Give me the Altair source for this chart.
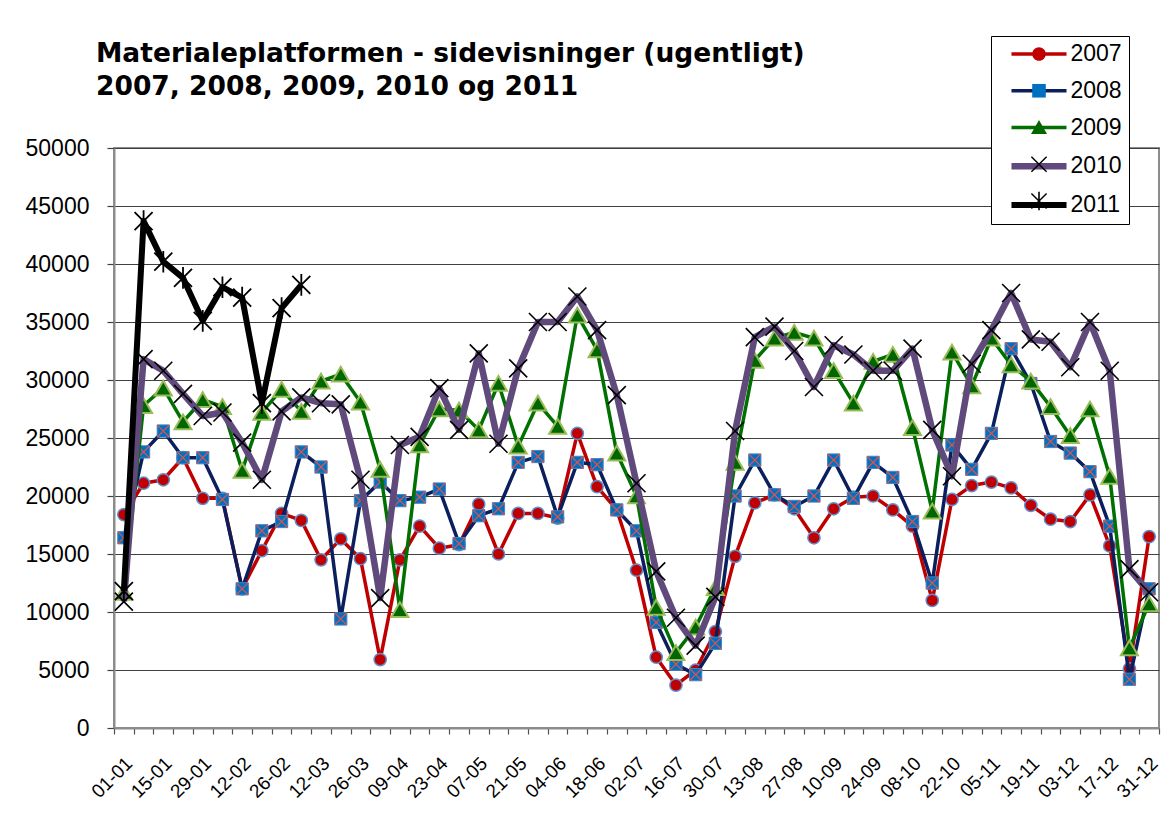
import altair as alt
import pandas as pd

dates = ["01-01", "08-01", "15-01", "22-01", "29-01", "05-02", "12-02", "19-02", "26-02",
         "05-03", "12-03", "19-03", "26-03", "02-04", "09-04", "16-04", "23-04", "30-04",
         "07-05", "14-05", "21-05", "28-05", "04-06", "11-06", "18-06", "25-06", "02-07",
         "09-07", "16-07", "23-07", "30-07", "06-08", "13-08", "20-08", "27-08", "03-09",
         "10-09", "17-09", "24-09", "01-10", "08-10", "15-10", "22-10", "29-10", "05-11",
         "12-11", "19-11", "26-11", "03-12", "10-12", "17-12", "24-12", "31-12"]
years = ["2007", "2008", "2009", "2010", "2011"]

v2007 = [18400, 21100, 21400, 23300, 19800, 19800, 12000, 15300, 18500, 17900, 14500, 16300,
         14600, 5900, 14500, 17400, 15500, 15800, 19300, 15000, 18500, 18500, 18100, 25400,
         20800, 18800, 13600, 6100, 3700, 5000, 8300, 14800, 19400, 20100, 18900, 16400,
         18900, 19900, 20000, 18800, 17400, 11000, 19700, 20900, 21200, 20700, 19200, 18000,
         17800, 20100, 15700, 5100, 16500]
v2008 = [16400, 23800, 25600, 23300, 23300, 19700, 12000, 17000, 17800, 23800, 22500, 9400,
         19600, 21200, 19600, 19900, 20600, 15900, 18300, 18900, 22900, 23400, 18200, 22900,
         22700, 18800, 17000, 9100, 5500, 4600, 7300, 20000, 23100, 20100, 19100, 20000,
         23100, 19800, 22900, 21600, 17800, 12500, 24400, 22300, 25400, 32700, 29700, 24700,
         23700, 22100, 17400, 4200, 12000]
v2009 = [11700, 27800, 29300, 26400, 28300, 27700, 22200, 27200, 29200, 27300, 29900, 30500,
         28100, 22300, 10200, 24400, 27500, 27400, 25700, 29700, 24300, 28000, 26000, 35600,
         32600, 23700, 20000, 10400, 6500, 8700, 12100, 22900, 31700, 33600, 34100, 33600,
         30800, 28000, 31600, 32200, 25900, 18700, 32400, 29500, 33600, 31300, 29900, 27700,
         25200, 27500, 21700, 6900, 10700]
v2010 = [10900, 31800, 30800, 28800, 26900, 27200, 24600, 21400, 27300, 28500, 28000, 27900,
         21400, 11200, 24400, 25100, 29300, 25700, 32300, 24500, 31000, 35000, 35000, 37200,
         34300, 28700, 21100, 13500, 9500, 7100, 11300, 25600, 33700, 34600, 32500, 29400,
         33000, 32200, 30800, 30800, 32700, 25700, 21700, 31400, 34300, 37500, 33500, 33300,
         31100, 35000, 30800, 13700, 11700]
v2011 = [11800, 43700, 40200, 38800, 35100, 38000, 37100, 28000, 36200, 38200]

y_ticks = list(range(0, 50001, 5000))
label_dates = dates[::2]
title_lines = ["Materialeplatformen - sidevisninger (ugentligt)",
               "2007, 2008, 2009, 2010 og 2011"]

series_values = dict(zip(years, [v2007, v2008, v2009, v2010, v2011]))
rows = [{"date": d, "series": s, "value": v}
        for s, vals in series_values.items() for d, v in zip(dates, vals)]
df = pd.DataFrame(rows)

line_colors = ["#C00000", "#0A1F5C", "#007000", "#604A7B", "#000000"]
line_widths = [3.5, 3.5, 3.5, 6.5, 6.0]

X_PATH = "M-1,-1L1,1M1,-1L-1,1"
AST_PATH = "M-1,-1L1,1M1,-1L-1,1M0,-1.2L0,1.2"
markers = {
    "2007": [dict(shape="circle", filled=True, fill="#C00000", stroke="#5B8FD0",
                  strokeWidth=1.5, size=150, opacity=1)],
    "2008": [dict(shape="square", filled=True, fill="#0070C0", stroke="#4F81BD",
                  strokeWidth=1, size=150, opacity=1),
             dict(shape=X_PATH, filled=False, stroke="#D9534F", strokeWidth=1.3,
                  size=140, opacity=1)],
    "2009": [dict(shape="triangle-up", filled=True, fill="#006600", stroke="#9BBB59",
                  strokeWidth=2, size=290, opacity=1)],
    "2010": [dict(shape=X_PATH, filled=False, stroke="#000000", strokeWidth=1.6,
                  size=324, opacity=1)],
    "2011": [dict(shape=AST_PATH, filled=False, stroke="#000000", strokeWidth=1.8,
                  size=324, opacity=1)],
}

# legend marker paths (unit = 8px with symbolSize 256)
leg_paths = [
    "M0.85,0A0.85,0.85,0,1,1,-0.85,0A0.85,0.85,0,1,1,0.85,0Z",
    "M-0.85,-0.85L0.85,-0.85L0.85,0.85L-0.85,0.85Z",
    "M0,-0.95L1.0,0.8L-1.0,0.8Z",
    "M1.014,0.886L0.886,1.014L-1.014,-0.886L-0.886,-1.014Z"
    "M0.886,-1.014L1.014,-0.886L-0.886,1.014L-1.014,0.886Z",
    "M1.014,0.886L0.886,1.014L-1.014,-0.886L-0.886,-1.014Z"
    "M0.886,-1.014L1.014,-0.886L-0.886,1.014L-1.014,0.886Z"
    "M0.1,-1.15L0.1,1.15L-0.1,1.15L-0.1,-1.15Z",
]
leg_fills = ["#C00000", "#0070C0", "#006600", "#000000", "#000000"]
years_b = ["m" + y for y in years]

label_expr = "indexof([" + ",".join("'%s'" % d for d in label_dates) + "], datum.value) >= 0 ? datum.label : ''"

x_axis = alt.Axis(title=None, tickBand="extent", labelExpr=label_expr, labelAngle=-45,
                  labelAlign="right", labelBaseline="middle", labelFont="Liberation Sans",
                  labelFontSize=19, labelColor="black", labelPadding=26, labelOffset=5,
                  labelOverlap=False, tickSize=6, tickColor="#505050", tickWidth=1.2,
                  domainColor="#8c8c8c", domainWidth=2, grid=False)
y_axis = alt.Axis(title=None, values=y_ticks, format="d", grid=True, gridColor="#404040",
                  gridWidth=1, tickSize=7, tickColor="#404040", tickWidth=1.2,
                  labelFont="Liberation Sans", labelFontSize=23, labelColor="black",
                  labelPadding=18, domainColor="#8c8c8c", domainWidth=2)

x = alt.X("date:N", sort=dates, bandPosition=0.5,
          scale=alt.Scale(type="band", paddingInner=0, paddingOuter=0), axis=x_axis)
y = alt.Y("value:Q", scale=alt.Scale(domain=[0, 50000], nice=False), axis=y_axis)

base = alt.Chart(df)
layers = []
for i, s in enumerate(years):
    sub = base.transform_filter(alt.datum.series == s)
    layers.append(sub.mark_line(stroke=line_colors[i], strokeWidth=line_widths[i],
                                strokeJoin="round").encode(x=x, y=y))
    for m in markers[s]:
        layers.append(sub.mark_point(**m).encode(x=x, y=y))

common_leg = dict(title=None, orient="none", legendX=877, legendY=-112, symbolSize=256,
                  symbolOffset=30, labelOffset=20, labelFont="Liberation Sans",
                  labelFontSize=23, labelColor="black", padding=6.5, rowPadding=12.75)
legA = alt.Legend(symbolType="M-3.44,0L3.44,0", strokeColor="black", fillColor="white",
                  cornerRadius=0, **common_leg)
legB = alt.Legend(labelExpr="''", **common_leg)

leg_lines = base.transform_filter("false").mark_line().encode(
    stroke=alt.Stroke("series:N", scale=alt.Scale(domain=years, range=line_colors), legend=legA),
    strokeWidth=alt.StrokeWidth("series:N", scale=alt.Scale(type="ordinal", domain=years,
                                                            range=line_widths), legend=legA),
)
leg_marks = base.transform_filter("false").mark_point(filled=True, opacity=1).encode(
    color=alt.Color("series:N", scale=alt.Scale(domain=years_b, range=leg_fills), legend=legB),
    shape=alt.Shape("series:N", scale=alt.Scale(domain=years_b, range=leg_paths), legend=legB),
)

chart = alt.layer(*layers, leg_lines, leg_marks).properties(
    width=1045, height=580,
    title=alt.TitleParams(text=title_lines, anchor="start", frame="group", dx=-18, offset=-65,
                          font="DejaVu Sans", fontSize=26.5, fontWeight="bold", color="black",
                          lineHeight=33, baseline="top"),
    padding={"left": 17, "top": 27, "right": 0, "bottom": 4},
).configure_view(stroke="#8c8c8c", strokeWidth=2)

chart.save("out.html", embed_options={"renderer": "svg", "actions": False})
